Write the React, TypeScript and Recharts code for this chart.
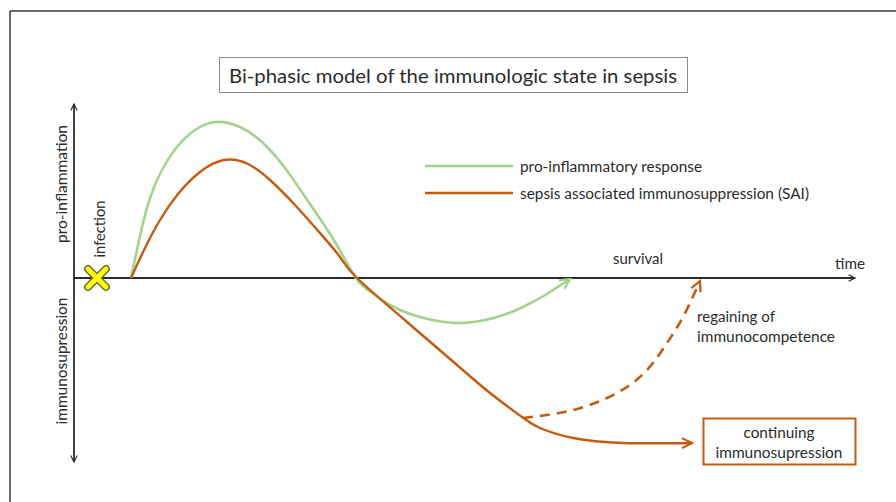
import { ComposedChart, Line, ReferenceLine, Scatter, XAxis, YAxis } from "recharts";

// units: t = time (0 at the vertical axis), v = immunologic state (0 = baseline)
const proInflammatory = [
  { t: 57, v: 0 }, { t: 66, v: 42 }, { t: 76, v: 80 }, { t: 88, v: 108 },
  { t: 103, v: 131 }, { t: 121, v: 148 }, { t: 142, v: 156 }, { t: 166, v: 151 },
  { t: 188, v: 136 }, { t: 211, v: 110 }, { t: 236, v: 74 }, { t: 261, v: 36 },
  { t: 282, v: 0 }, { t: 298, v: -15 }, { t: 318, v: -28 }, { t: 346, v: -39 },
  { t: 381, v: -45 }, { t: 406, v: -43 }, { t: 428, v: -37.5 }, { t: 450, v: -28.5 },
  { t: 472, v: -16.5 }, { t: 496, v: -1 },
];

const sai = [
  { t: 57, v: 0 }, { t: 71, v: 30 }, { t: 86, v: 58 }, { t: 104, v: 84 },
  { t: 126, v: 106 }, { t: 150, v: 118 }, { t: 174, v: 114 }, { t: 196, v: 98 },
  { t: 221, v: 73 }, { t: 246, v: 45 }, { t: 266, v: 21 }, { t: 283, v: 0 },
  { t: 333, v: -44 }, { t: 383, v: -87 }, { t: 416, v: -115 }, { t: 448, v: -139 },
  { t: 466, v: -150 }, { t: 499, v: -160 }, { t: 549, v: -165 }, { t: 618, v: -165 },
];

const regaining = [
  { t: 449, v: -140 }, { t: 499, v: -132 }, { t: 543, v: -115 }, { t: 573, v: -92 },
  { t: 593, v: -65 }, { t: 609, v: -39 }, { t: 626, v: -3 },
];

const infection = [{ t: 23, v: 0 }];
const timeEnd = 781;
const stateTop = 174;
const stateBottom = -184;

const legendNames = ["pro-inflammatory response", "sepsis associated immunosuppression (SAI)"];
const GREEN = "#a3d28c";
const ORANGE = "#c55a11";
const INK = "#2b2b2b";
const FONT = "Lato, 'Open Sans', sans-serif";

function XMark(props: any) {
  const { cx, cy } = props;
  const d = `M${cx - 9},${cy - 9} L${cx + 9},${cy + 9} M${cx + 9},${cy - 9} L${cx - 9},${cy + 9}`;
  return (
    <g>
      <path d={d} stroke="#6e6e40" strokeWidth={8} strokeLinecap="round" />
      <path d={d} stroke="#ffff00" strokeWidth={5} strokeLinecap="round" />
    </g>
  );
}

function Markers() {
  const chevron = (id: string, color: string, w: number, size: number) => (
    <marker id={id} viewBox="0 0 14 14" refX="12" refY="7" markerWidth={size} markerHeight={size}
      markerUnits="userSpaceOnUse" orient="auto-start-reverse">
      <path d="M2,2 L12,7 L2,12" fill="none" stroke={color} strokeWidth={w} strokeLinejoin="miter" />
    </marker>
  );
  return (
    <svg width={0} height={0} style={{ position: "absolute" }}>
      <defs>
        {chevron("arrG", GREEN, 2.2, 14)}
        {chevron("arrO", ORANGE, 2.2, 14)}
        {chevron("arrK", INK, 1.8, 9)}
      </defs>
    </svg>
  );
}

function Overlay() {
  const txt = { fontFamily: FONT, fill: INK } as const;
  return (
    <svg width={896} height={502} style={{ position: "absolute", left: 0, top: 0, pointerEvents: "none" }}>
      <line x1={10} y1={11} x2={896} y2={11} stroke="#3a3a3a" strokeWidth={1.5} />
      <line x1={10} y1={11} x2={10} y2={502} stroke="#3a3a3a" strokeWidth={1.5} />
      <rect x={219.5} y={57.5} width={468} height={35} fill="#fff" stroke="#8c8c8c" strokeWidth={1} />
      <text x={453} y={75} fontSize={20} dominantBaseline="central" textAnchor="middle" textLength={448} lengthAdjust="spacingAndGlyphs" {...txt}>
        Bi-phasic model of the immunologic state in sepsis
      </text>
      <line x1={425} y1={166} x2={513} y2={166} stroke={GREEN} strokeWidth={2.5} />
      <line x1={425} y1={193} x2={513} y2={193} stroke={ORANGE} strokeWidth={2.5} />
      <text x={520} y={166} fontSize={15.5} dominantBaseline="central" textLength={182} lengthAdjust="spacingAndGlyphs" {...txt}>{legendNames[0]}</text>
      <text x={520} y={193} fontSize={15.5} dominantBaseline="central" textLength={289} lengthAdjust="spacingAndGlyphs" {...txt}>{legendNames[1]}</text>
      <text x={613} y={258} fontSize={14.5} dominantBaseline="central" textLength={50} lengthAdjust="spacingAndGlyphs" {...txt}>survival</text>
      <text x={835} y={263} fontSize={14.5} dominantBaseline="central" textLength={30} lengthAdjust="spacingAndGlyphs" {...txt}>time</text>
      <text x={697} y={316} fontSize={14.5} dominantBaseline="central" textLength={78} lengthAdjust="spacingAndGlyphs" {...txt}>regaining of</text>
      <text x={697} y={336} fontSize={14.5} dominantBaseline="central" textLength={138} lengthAdjust="spacingAndGlyphs" {...txt}>immunocompetence</text>
      <rect x={703.5} y={418.5} width={152} height={46} fill="#fff" stroke={ORANGE} strokeWidth={2} />
      <text x={779} y={432} fontSize={14.5} dominantBaseline="central" textAnchor="middle" textLength={71} lengthAdjust="spacingAndGlyphs" {...txt}>continuing</text>
      <text x={779} y={452} fontSize={14.5} dominantBaseline="central" textAnchor="middle" textLength={127} lengthAdjust="spacingAndGlyphs" {...txt}>immunosupression</text>
      <text transform="translate(61,184) rotate(-90)" fontSize={15.5} dominantBaseline="central" textAnchor="middle" textLength={118} lengthAdjust="spacingAndGlyphs" {...txt}>pro-inflammation</text>
      <text transform="translate(99,229) rotate(-90)" fontSize={15} dominantBaseline="central" textAnchor="middle" textLength={57} lengthAdjust="spacingAndGlyphs" {...txt}>infection</text>
      <text transform="translate(61,361) rotate(-90)" fontSize={15.5} dominantBaseline="central" textAnchor="middle" textLength={127} lengthAdjust="spacingAndGlyphs" {...txt}>immunosupression</text>
    </svg>
  );
}

export default function App() {
  return (
    <div style={{ position: "absolute", left: 0, top: 0, width: 896, height: 502, background: "#fff" }}>
      <Markers />
      <ComposedChart width={896} height={502} margin={{ top: 0, right: 0, bottom: 0, left: 0 }}>
        <XAxis dataKey="t" type="number" domain={[-74, 822]} hide allowDataOverflow />
        <YAxis dataKey="v" type="number" domain={[-224, 278]} hide allowDataOverflow />
        <ReferenceLine segment={[{ x: 0, y: 0 }, { x: timeEnd, y: 0 }]} stroke={INK} strokeWidth={1.8} markerEnd="url(#arrK)" />
        <ReferenceLine segment={[{ x: 0, y: stateBottom }, { x: 0, y: stateTop }]} stroke={INK} strokeWidth={1.8} markerStart="url(#arrK)" markerEnd="url(#arrK)" />
        <Line data={proInflammatory} dataKey="v" type="natural" stroke={GREEN} strokeWidth={2.6} dot={false} activeDot={false} isAnimationActive={false} markerEnd="url(#arrG)" />
        <Line data={sai} dataKey="v" type="natural" stroke={ORANGE} strokeWidth={2.4} dot={false} activeDot={false} isAnimationActive={false} markerEnd="url(#arrO)" />
        <Line data={regaining} dataKey="v" type="natural" stroke={ORANGE} strokeWidth={2.6} strokeDasharray="10 7" dot={false} activeDot={false} isAnimationActive={false} markerEnd="url(#arrO)" />
        <Scatter data={infection} dataKey="v" shape={XMark} isAnimationActive={false} />
      </ComposedChart>
      <Overlay />
    </div>
  );
}
